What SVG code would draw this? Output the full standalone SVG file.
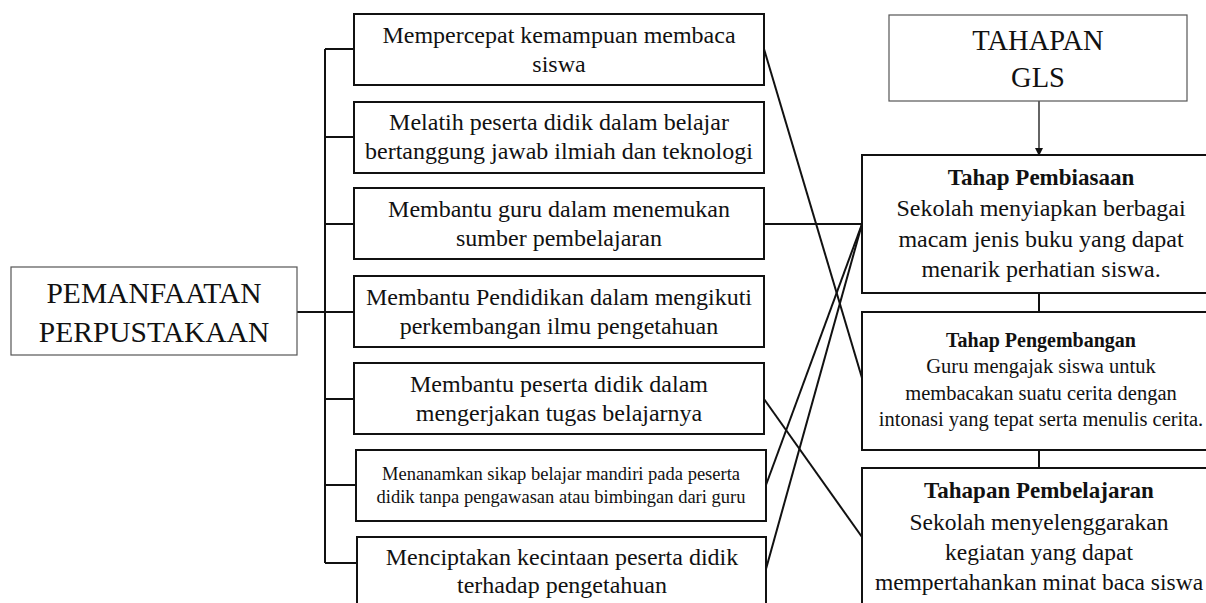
<svg xmlns="http://www.w3.org/2000/svg" width="1206" height="603" viewBox="0 0 1206 603">
<style>
.box{fill:#fff;stroke:#111;stroke-width:2}
.thin{fill:#fff;stroke:#555;stroke-width:1.2}
.ln{stroke:#111;stroke-width:2;fill:none}
text{font-family:"Liberation Serif","Times New Roman",serif;fill:#111;text-anchor:middle}
.t24{font-size:24px}
.big{font-size:29.5px}
.gls{font-size:28.5px}
.sm{font-size:18.5px}
.md{font-size:20.5px}
.lg{font-size:23.5px}
.b{font-weight:bold}
</style>
<defs>
<marker id="arr" markerWidth="8" markerHeight="8" refX="7" refY="4" orient="auto" markerUnits="userSpaceOnUse">
<path d="M0,0 L8,4 L0,8 Z" fill="#111"/>
</marker>
</defs>
<rect width="1206" height="603" fill="#fff"/>
<g id="connectors">
<path class="ln" d="M297,312 H325 M325,49 V563 M325,49 H354 M325,137 H354 M325,224 H354 M325,312 H354 M325,399 H354 M325,485 H356 M325,563 H357"/>
<path class="ln" d="M764,49 L862,378"/>
<path class="ln" d="M764,224 H862"/>
<path class="ln" d="M764,399 L862,537"/>
<path class="ln" d="M766,485 L862,224"/>
<path class="ln" d="M766,569 L862,224"/>
<path class="ln" d="M1039,293 V312 M1039,450 V468"/>
<line x1="1039" y1="101" x2="1039" y2="155" stroke="#111" stroke-width="1.3" marker-end="url(#arr)"/>
</g>
<g id="pemanfaatan">
<rect class="thin" x="11" y="267" width="286" height="88"/>
<text class="big" x="154" y="303">PEMANFAATAN</text>
<text class="big" x="154" y="342">PERPUSTAKAAN</text>
</g>
<g id="n1">
<rect class="box" x="354" y="14" width="410" height="71"/>
<text class="t24" x="559" y="43">Mempercepat kemampuan membaca</text>
<text class="t24" x="559" y="72">siswa</text>
</g>
<g id="n2">
<rect class="box" x="354" y="102" width="410" height="71"/>
<text class="t24" x="559" y="130">Melatih peserta didik dalam belajar</text>
<text class="t24" x="559" y="159">bertanggung jawab ilmiah dan teknologi</text>
</g>
<g id="n3">
<rect class="box" x="354" y="188" width="410" height="71"/>
<text class="t24" x="559" y="217">Membantu guru dalam menemukan</text>
<text class="t24" x="559" y="246">sumber pembelajaran</text>
</g>
<g id="n4">
<rect class="box" x="354" y="276" width="410" height="71"/>
<text class="t24" x="559" y="305">Membantu Pendidikan dalam mengikuti</text>
<text class="t24" x="559" y="334">perkembangan ilmu pengetahuan</text>
</g>
<g id="n5">
<rect class="box" x="354" y="363" width="410" height="71"/>
<text class="t24" x="559" y="392">Membantu peserta didik dalam</text>
<text class="t24" x="559" y="421">mengerjakan tugas belajarnya</text>
</g>
<g id="n6">
<rect class="box" x="356" y="450" width="410" height="71"/>
<text class="sm" x="561" y="480">Menanamkan sikap belajar mandiri pada peserta</text>
<text class="sm" x="561" y="503">didik tanpa pengawasan atau bimbingan dari guru</text>
</g>
<g id="n7">
<rect class="box" x="357" y="537" width="409" height="80"/>
<text class="t24" x="562" y="565">Menciptakan kecintaan peserta didik</text>
<text class="t24" x="562" y="593">terhadap pengetahuan</text>
</g>
<g id="tahapan">
<rect class="thin" x="889" y="15" width="298" height="86"/>
<text class="gls" x="1038" y="50">TAHAPAN</text>
<text class="gls" x="1038" y="87">GLS</text>
</g>
<g id="pembiasaan">
<rect class="box" x="862" y="155" width="360" height="138"/>
<text class="b" x="1041" y="185" style="font-size:23px">Tahap Pembiasaan</text>
<text class="t24" x="1041" y="216">Sekolah menyiapkan berbagai</text>
<text class="t24" x="1041" y="247">macam jenis buku yang dapat</text>
<text class="t24" x="1041" y="277">menarik perhatian siswa.</text>
</g>
<g id="pengembangan">
<rect class="box" x="862" y="312" width="360" height="138"/>
<text class="b" x="1041" y="347" style="font-size:20px">Tahap Pengembangan</text>
<text class="md" x="1041" y="373">Guru mengajak siswa untuk</text>
<text class="md" x="1041" y="400">membacakan suatu cerita dengan</text>
<text class="md" x="1041" y="426">intonasi yang tepat serta menulis cerita.</text>
</g>
<g id="pembelajaran">
<rect class="box" x="862" y="468" width="360" height="150"/>
<text class="b" x="1039" y="498" style="font-size:23px">Tahapan Pembelajaran</text>
<text class="lg" x="1039" y="530">Sekolah menyelenggarakan</text>
<text class="lg" x="1039" y="560">kegiatan yang dapat</text>
<text class="lg" x="1039" y="590">mempertahankan minat baca siswa</text>
</g>
</svg>
